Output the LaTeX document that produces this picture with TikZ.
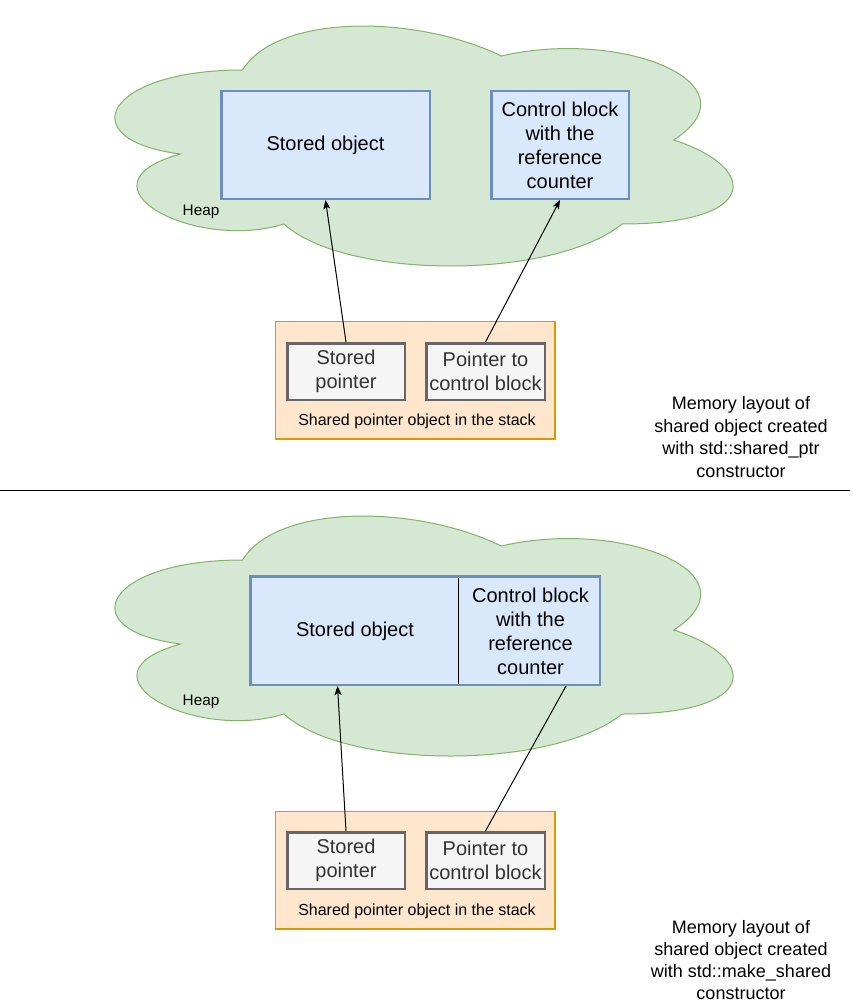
\documentclass[tikz,border=0pt]{standalone}
\usepackage{fontspec}
\setmainfont{Liberation Sans}
\usepackage{tikz}
\usetikzlibrary{positioning,calc,arrows.meta}
\definecolor{heapgreen}{HTML}{D5E8D4}
\definecolor{heapedge}{HTML}{82B366}
\definecolor{objblue}{HTML}{DAE8FC}
\definecolor{objedge}{HTML}{6C8EBF}
\definecolor{stackorange}{HTML}{FFE6CC}
\definecolor{stackedge}{HTML}{D79B00}
\definecolor{ptrgray}{HTML}{F5F5F5}
\definecolor{ptredge}{HTML}{666666}
\definecolor{ptrtext}{HTML}{333333}

\begin{document}
\begin{tikzpicture}[
  x=1pt, y=-1pt,
  heapcloud/.style={draw=heapedge, fill=heapgreen, line width=1pt},
  obj/.style={draw=objedge, line width=2.5pt, fill=objblue, align=center, inner sep=0pt, font=\fontsize{20pt}{24pt}\selectfont},
  objtext/.style={align=center, inner sep=0pt, font=\fontsize{20pt}{24pt}\selectfont},
  ptr/.style={draw=ptredge, line width=2.5pt, fill=ptrgray, text=ptrtext, align=center, inner sep=0pt, minimum width=117.5pt, minimum height=56.5pt, font=\fontsize{20pt}{24pt}\selectfont},
  stack/.style={draw=stackedge, line width=1.2pt, fill=stackorange, minimum width=279.3pt, minimum height=117.8pt},
  heaplbl/.style={inner sep=0pt, font=\fontsize{15.3pt}{18pt}\selectfont},
  stacklbl/.style={inner sep=0pt, font=\fontsize{16pt}{19pt}\selectfont},
  caption/.style={align=center, inner sep=0pt, font=\fontsize{18pt}{22.5pt}\selectfont},
  arr/.style={-{Stealth[length=9pt, width=7pt, inset=2pt]}, line width=1pt},
  link/.style={line width=1pt}
]
\useasboundingbox (0,0) rectangle (853,1003);

% the two heaps
\foreach \oy in {0,490} {
  \begin{scope}[yshift=-\oy*1pt, xshift=70pt, x=690pt, y=-280pt]
    \draw[heapcloud] (.25,.25) .. controls (.05,.25) and (0,.5) .. (.16,.55)
      .. controls (0,.66) and (.18,.9) .. (.31,.8)
      .. controls (.4,1) and (.7,1) .. (.8,.8)
      .. controls (1,.8) and (1,.6) .. (.875,.5)
      .. controls (1,.3) and (.8,.1) .. (.625,.2)
      .. controls (.5,.05) and (.3,.05) .. (.25,.25) -- cycle;
  \end{scope}
}

% shared_ptr constructor
\node[obj, minimum width=208.5pt, minimum height=107.5pt] (obj) at (325.5,145) {Stored object};
\node[obj, minimum width=137.5pt, minimum height=107.5pt] (ctrl) at (560,145) {Control block\\with the\\reference\\counter};
\node[heaplbl] (heap) at (201,211.5) {Heap};
\node[stack] (stack) at (415.25,380) {};
\node[ptr] (sptr) at (346,371.5) {Stored\\pointer};
\node[ptr, minimum width=118.5pt, right=19pt of sptr] (cptr) {Pointer to\\control block};
\node[stacklbl] (stacktxt) at (417,421.5) {Shared pointer object in the stack};
\node[caption] (cap) at (741,437) {Memory layout of\\shared object created\\with std::shared\_ptr\\constructor};

\draw[arr] (sptr.north) -- (obj.south);
\draw[arr] (cptr.north) -- (ctrl.south);

\draw[link] (0,490) -- (850,490);

% make_shared
\node[obj, minimum width=349.5pt, minimum height=108.5pt] (pair) at (425,630.5) {};
\node[objtext] (obj2) at (355,631.5) {Stored object};
\node[objtext] (ctrl2) at (530.5,631) {Control block\\with the\\reference\\counter};
\coordinate (split) at (458.5,630.5);
\draw[link, shorten <=2.5pt, shorten >=2.5pt] (split |- pair.north) -- (split |- pair.south);
\node[heaplbl] (heap2) at (201,701.5) {Heap};
\node[stack] (stack2) at (415.25,870) {};
\node[ptr] (sptr2) at (346,860.5) {Stored\\pointer};
\node[ptr, minimum width=118.5pt, right=19pt of sptr2] (cptr2) {Pointer to\\control block};
\node[stacklbl] (stacktxt2) at (417,911.5) {Shared pointer object in the stack};
\node[caption, font=\fontsize{18pt}{22pt}\selectfont] (cap2) at (741,960.5) {Memory layout of\\shared object created\\with std::make\_shared\\constructor};

\draw[arr] (sptr2.north) -- ([xshift=-87.5pt]pair.south);
\draw[link] (cptr2.north) -- ([xshift=141pt]pair.south);
\end{tikzpicture}
\end{document}
